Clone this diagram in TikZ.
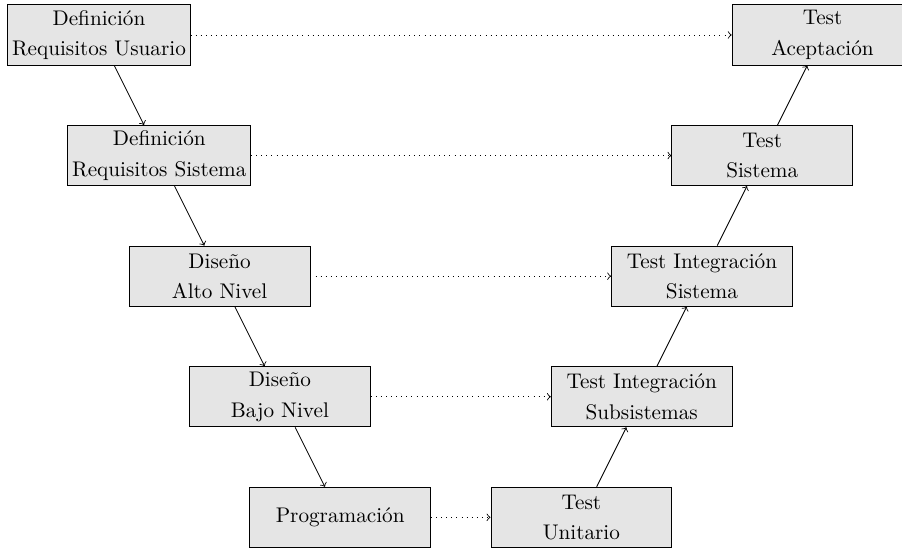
\documentclass[tikz,border=0pt]{standalone}
\usetikzlibrary{positioning}
\begin{document}
\begin{tikzpicture}[
  phase/.style={draw, fill=black!10, minimum width=3cm, minimum height=1cm, align=center, inner sep=2pt},
  flow/.style={->},
  link/.style={->, dotted}
]
\useasboundingbox (0,0) rectangle (14.96,-9.09);
% descending branch
\node[phase] (rdu) at (1.642,-0.58) {Definición\\[2.4pt]Requisitos Usuario};
\node[phase] (rds) at (2.642,-2.58) {Definición\\[2.4pt]Requisitos Sistema};
\node[phase] (dan) at (3.642,-4.58) {Diseño\\[2.4pt]Alto Nivel};
\node[phase] (dbn) at (4.642,-6.58) {Diseño\\[2.4pt]Bajo Nivel};
\node[phase] (prg) at (5.642,-8.58) {Programación};
% ascending branch
\node[phase] (tun) at (9.642,-8.58) {Test\\[2.4pt]Unitario};
\node[phase] (tis) at (10.642,-6.58) {Test Integración\\[2.4pt]Subsistemas};
\node[phase] (tin) at (11.642,-4.58) {Test Integración\\[2.4pt]Sistema};
\node[phase] (tsi) at (12.642,-2.58) {Test\\[2.4pt]Sistema};
\node[phase] (tac) at (13.642,-0.58) {Test\\[2.4pt]Aceptación};
% process flow
\draw[flow] (rdu) -- (rds);
\draw[flow] (rds) -- (dan);
\draw[flow] (dan) -- (dbn);
\draw[flow] (dbn) -- (prg);
\draw[flow] (tun) -- (tis);
\draw[flow] (tis) -- (tin);
\draw[flow] (tin) -- (tsi);
\draw[flow] (tsi) -- (tac);
% verification links
\draw[link] (rdu) -- (tac);
\draw[link] (rds) -- (tsi);
\draw[link] (dan) -- (tin);
\draw[link] (dbn) -- (tis);
\draw[link] (prg) -- (tun);
\end{tikzpicture}
\end{document}
